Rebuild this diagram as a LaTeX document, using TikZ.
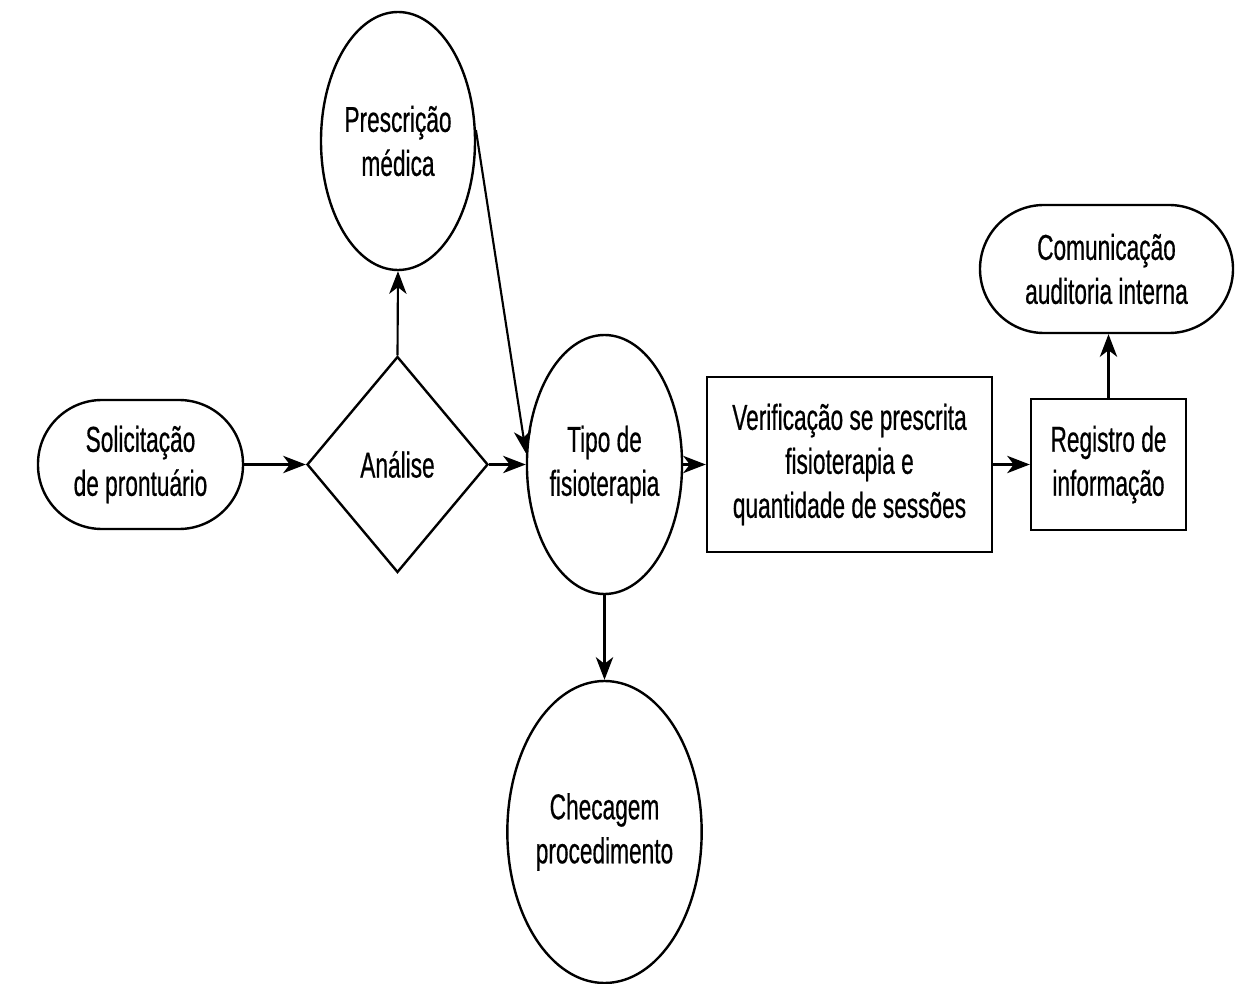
\documentclass[tikz,border=0pt]{standalone}
\usepackage{fontspec}
\setmainfont{Liberation Sans}[FakeStretch=0.63, FakeBold=0.5]
\usetikzlibrary{shapes.geometric,arrows.meta}
\begin{document}
\begin{tikzpicture}[x=0.75pt,y=-0.75pt,
  base/.style={draw=black, line width=1.8pt, inner sep=0pt, align=center,
    font=\fontsize{27}{33}\selectfont},
  terminal/.style={base, rectangle, rounded corners=48pt},
  decision/.style={base, diamond},
  event/.style={base, ellipse},
  process/.style={base, rectangle},
  flow/.style={line width=1.6pt, -{Stealth[length=17pt, width=13pt, inset=5pt]}}
]
\useasboundingbox (0,0) rectangle (1240,984);

% nodes
\node[terminal, minimum width=153.75pt, minimum height=96.75pt] (sol) at (140.5,464.5)
  {Solicitação\\de prontuário};
\node[decision, minimum width=135.75pt, minimum height=162pt] (an) at (397.5,464.5) {Análise};
\node[event, minimum width=115.5pt, minimum height=193.5pt] (pm) at (398,141)
  {Prescrição\\médica};
\node[event, minimum width=116.25pt, minimum height=194.25pt] (tf) at (604.5,464.5)
  {Tipo de\\fisioterapia};
\node[event, minimum width=135.75pt, minimum height=226.5pt] (cp) at (604.5,832)
  {Checagem\\procedimento};
\node[process, minimum width=213.75pt, minimum height=131.25pt] (vf) at (849.5,464.5)
  {Verificação se prescrita\\fisioterapia e\\quantidade de sessões};
\node[process, minimum width=116.25pt, minimum height=98.25pt] (rg) at (1108.5,464.5)
  {Registro de\\informação};
\node[terminal, minimum width=189.75pt, minimum height=96pt] (cm) at (1106.5,269)
  {Comunicação\\auditoria interna};

% connectors
\draw[flow] (sol.east) -- (an.west);
\draw[flow] (an.north) -- (pm.south);
\draw[flow] (pm.8) -- (tf.172);
\draw[flow] (an.east) -- (tf.west);
\draw[flow] (tf.east) -- (vf.west);
\draw[flow] (tf.south) -- (cp.north);
\draw[flow] (vf.east) -- (rg.west);
\draw[flow] (rg.north) -- (rg.north |- cm.south);
\end{tikzpicture}
\end{document}
